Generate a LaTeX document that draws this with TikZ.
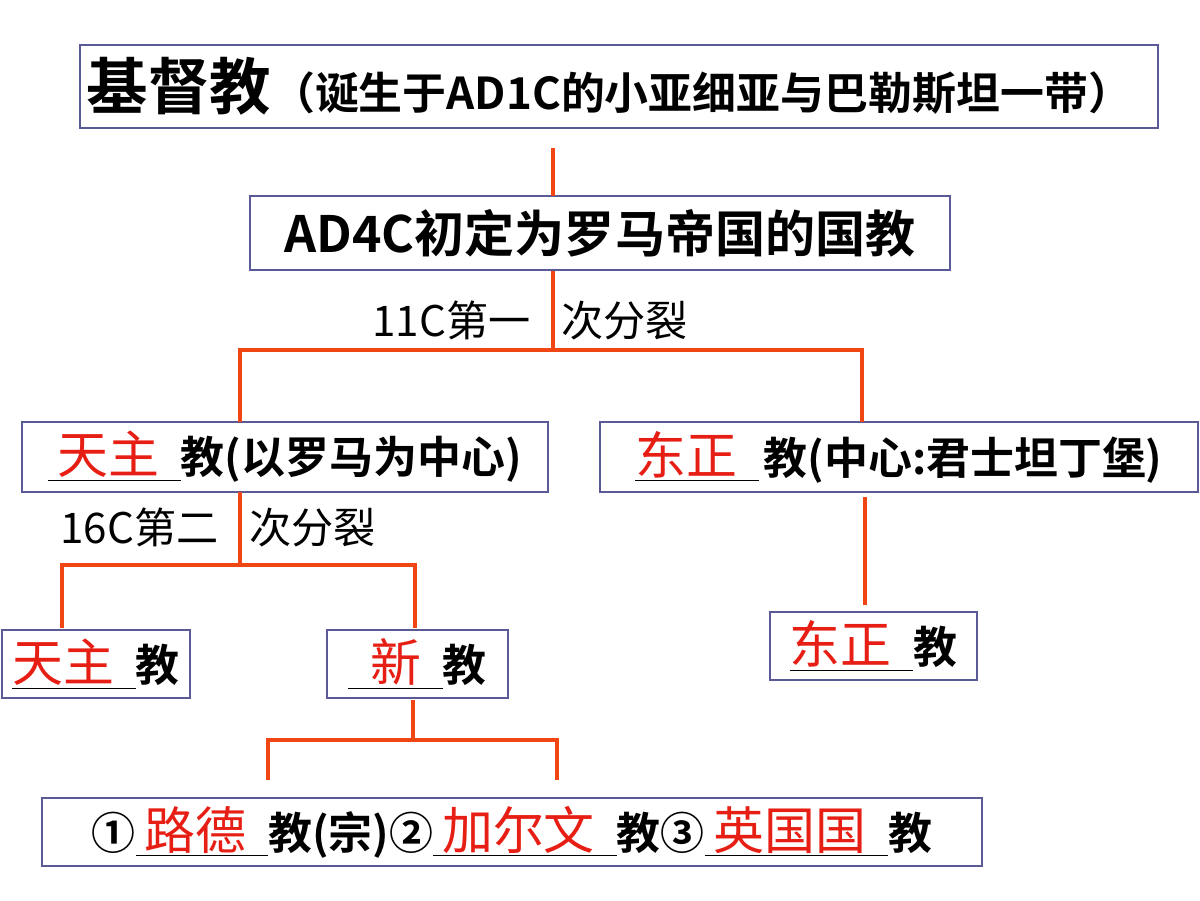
\documentclass[tikz,border=0pt]{standalone}
\usepackage{fontspec}
\setmainfont{Noto Sans CJK SC}
\newfontfamily\cjkb{Noto Sans CJK SC Bold}
\newfontfamily\cjkr{Noto Sans CJK SC}
\definecolor{ln}{RGB}{240,70,20}
\definecolor{bx}{RGB}{90,90,150}
\definecolor{rt}{RGB}{230,30,20}
\newcommand{\blank}[2][]{\underline{#1\textcolor{rt}{\cjkr\fontsize{29}{30}\selectfont #2}\hspace{0.5em}}}
\begin{document}
\begin{tikzpicture}[x=0.02cm,y=-0.02cm,
  box/.style={draw=bx,line width=0.7pt,inner sep=0pt,font=\cjkb},
  conn/.style={draw=ln,line width=2.8pt},
  lab/.style={font=\cjkr\fontsize{24}{26}\selectfont,inner sep=0pt}]
\useasboundingbox (0,0) rectangle (1200,900);
\node[box,minimum width=21.56cm,minimum height=1.66cm,text width=21.3cm,align=left] (b1) at (619,86.5) {\fontsize{35}{38}\selectfont 基督教\fontsize{25}{28}\selectfont（诞生于AD1C的小亚细亚与巴勒斯坦一带）};
\node[box,minimum width=14cm,minimum height=1.48cm] (b2) at (600,233) {\fontsize{28.5}{30}\selectfont AD4C初定为罗马帝国的国教};
\node[box,minimum width=10.52cm,minimum height=1.4cm] (b3) at (285,457) {\fontsize{25}{27}\selectfont\blank[\hspace{0.2em}]{天主}教(以罗马为中心)};
\node[box,minimum width=11.96cm,minimum height=1.4cm] (b4) at (899,457) {\fontsize{25}{27}\selectfont\blank{东正}\hspace{0.1em}教(中心:君士坦丁堡)};
\node[box,minimum width=3.76cm,minimum height=1.36cm] (b5) at (96,664) {\fontsize{25}{27}\selectfont\blank{天主}教};
\node[box,minimum width=3.62cm,minimum height=1.36cm] (b6) at (417.5,664) {\fontsize{25}{27}\selectfont\blank[\hspace{0.5em}]{新}教};
\node[box,minimum width=4.14cm,minimum height=1.36cm] (b7) at (873.5,646) {\fontsize{25}{27}\selectfont\blank{东正}教};
\node[box,minimum width=18.8cm,minimum height=1.36cm] (b8) at (512,832) {\fontsize{25}{27}\selectfont ①\blank[\hspace{0.2em}]{路德}教(宗)②\blank[\hspace{0.2em}]{加尔文}教③\blank[\hspace{0.2em}]{英国国}教};
\node[lab] (l1) at (530,320) {11C第一\hspace{0.5em} 次分裂};
\node[lab] (l2) at (218,527) {16C第二\hspace{0.5em} 次分裂};
\coordinate (t1) at (553,148);
\draw[conn] (t1) -- (553,196);
\coordinate (s1) at (553,350);
\draw[conn] (b2.south -| s1) -- (s1);
\draw[conn] (240,422) -- (240,350) -- (862,350) -- (862,422);
\coordinate (s2) at (240,565);
\draw[conn] (240,492) -- (s2);
\draw[conn] (62,628) -- (62,565) -- (415,565) -- (415,628);
\draw[conn] (865,497) -- (865,605);
\draw[conn] (413,700) -- (413,740);
\draw[conn] (268,780) -- (268,740) -- (557,740) -- (557,780);
\end{tikzpicture}
\end{document}
